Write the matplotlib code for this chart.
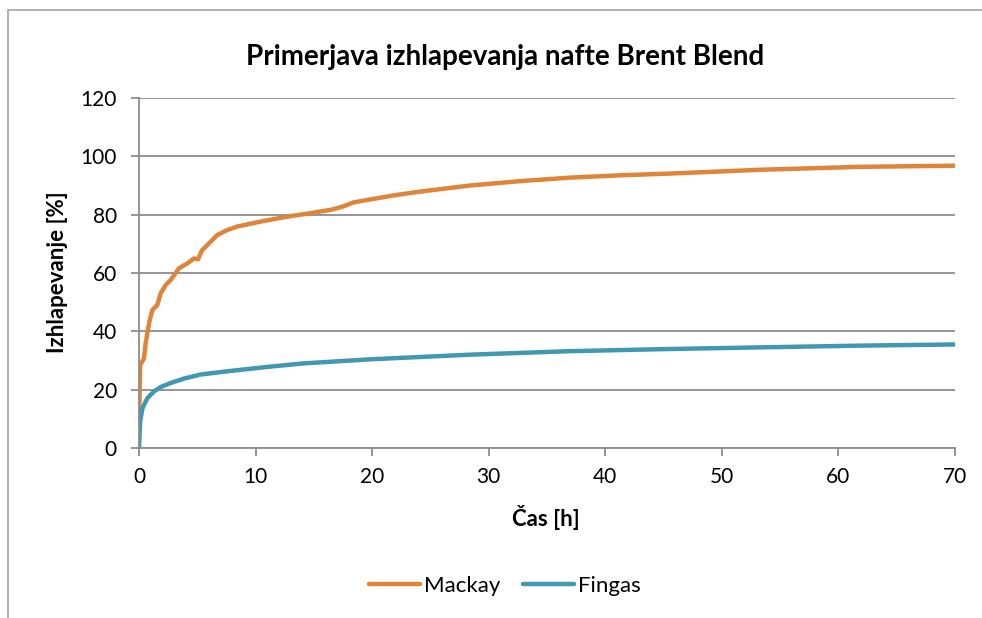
import matplotlib
matplotlib.use('Agg')
import matplotlib.pyplot as plt
from matplotlib.patches import Rectangle

plt.rcParams['font.family'] = ['Lato', 'DejaVu Sans']

# values
t_mackay = [0.0, 0.1, 0.43, 0.57, 0.86, 1.14, 1.57, 1.86, 2.29, 2.72, 3.43, 4.15,
            4.72, 5.06, 5.43, 6.14, 6.7, 7.5, 8.4, 10.4, 12.0, 13.2, 15.0, 16.5,
            17.5, 18.4, 19.8, 22.0, 24.1, 28.4, 32.7, 37.0, 41.3, 45.6, 53.3,
            61.9, 70.0]
y_mackay = [9.0, 28.5, 30.7, 35.9, 42.7, 47.3, 49.0, 53.0, 55.9, 57.6, 61.6, 63.3,
            65.0, 64.7, 67.9, 70.7, 73.0, 74.6, 75.9, 77.6, 78.8, 79.6, 80.7, 81.7,
            82.8, 84.2, 85.2, 86.7, 87.9, 90.0, 91.5, 92.7, 93.5, 94.1, 95.4,
            96.4, 96.8]

t_fingas = [0.0, 0.1, 0.3, 0.72, 1.29, 1.86, 2.72, 3.86, 5.29, 7.58, 11.0, 14.1,
            19.8, 28.4, 37.0, 45.0, 53.3, 61.9, 70.0]
y_fingas = [0.0, 9.2, 13.7, 17.1, 19.4, 20.9, 22.3, 23.8, 25.2, 26.3, 27.8, 29.0,
            30.4, 32.0, 33.2, 33.9, 34.5, 35.1, 35.5]

x_ticks = [0, 10, 20, 30, 40, 50, 60, 70]
y_ticks = [0, 20, 40, 60, 80, 100, 120]

W, H = 982, 618
fig = plt.figure(figsize=(W / 100, H / 100), dpi=100)
ax = fig.add_axes([139 / W, 1 - 448 / H, (955 - 139) / W, (448 - 98) / H])

# outer chart border (cut off on right and bottom in the original)
fig.patches.append(Rectangle((8 / W, -0.1), 1.2, 1 - 10 / H + 0.1,
                             transform=fig.transFigure, fill=False,
                             edgecolor='#A6A6A6', linewidth=1.2))

ax.plot(t_mackay, y_mackay, color='#E0843A', linewidth=3.2, label='Mackay',
        solid_capstyle='round', solid_joinstyle='round')
ax.plot(t_fingas, y_fingas, color='#4198B2', linewidth=3.2, label='Fingas',
        solid_capstyle='round', solid_joinstyle='round')

ax.set_xlim(0, 70)
ax.set_ylim(0, 120)
ax.set_xticks(x_ticks)
ax.set_yticks(y_ticks)
ax.grid(axis='y', color='#8C8C8C', linewidth=1.3)
ax.set_axisbelow(True)
for s in ['top', 'right']:
    ax.spines[s].set_visible(False)
for s in ['left', 'bottom']:
    ax.spines[s].set_color('#8C8C8C')
    ax.spines[s].set_linewidth(1.3)
ax.tick_params(axis='both', color='#8C8C8C', length=6, width=1.3,
               labelsize=15)
ax.tick_params(axis='x', pad=8)
ax.tick_params(axis='y', pad=10)

fig.text(546 / W, 1 - 517 / H, 'Čas [h]', ha='center', va='center',
         fontsize=16, fontweight='bold')
fig.text(58 / W, 1 - 272 / H, 'Izhlapevanje [%]', ha='center', va='center',
         rotation=90, fontsize=16, fontweight='bold')
fig.text(505 / W, 1 - 57 / H, 'Primerjava izhlapevanja nafte Brent Blend',
         ha='center', va='center', fontsize=20, fontweight='bold')

fig.legend(loc='center', bbox_to_anchor=(505 / W, 1 - 586 / H), ncol=2,
           frameon=False, fontsize=16, handlelength=2.3, handletextpad=0.2,
           columnspacing=1.0)

fig.savefig('out.png', dpi=100)
